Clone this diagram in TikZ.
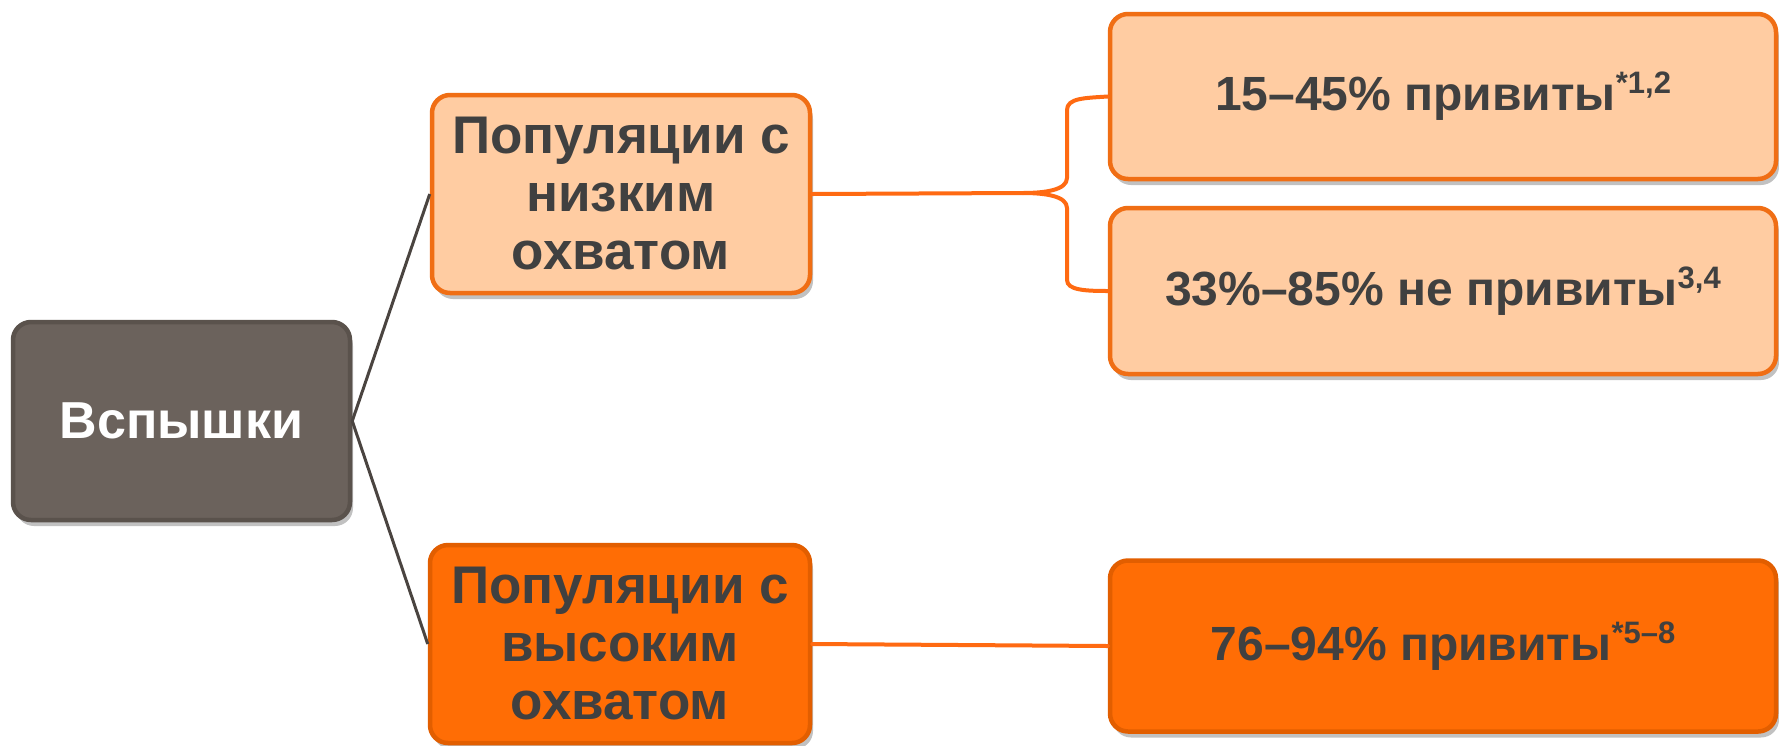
\documentclass[tikz,border=0pt]{standalone}
\usepackage{fontspec}
\setmainfont{Liberation Sans}
\usetikzlibrary{shadows}
\definecolor{flashfill}{HTML}{6B625C}
\definecolor{flashedge}{HTML}{5A524C}
\definecolor{peach}{HTML}{FFCCA2}
\definecolor{peachedge}{HTML}{F06E14}
\definecolor{orangefill}{HTML}{FF6D05}
\definecolor{orangeedge}{HTML}{E25E00}
\definecolor{linkorange}{HTML}{FF6A12}
\definecolor{linkgray}{HTML}{4A4440}
\definecolor{txtgray}{HTML}{404040}
\newcommand{\supx}[1]{\raisebox{0.36em}{\fontsize{31}{31}\selectfont #1}}
\begin{document}
\begin{tikzpicture}[x=1pt,y=-1pt,
  box/.style={rounded corners=18pt, line width=4.5pt, inner sep=0pt,
    drop shadow={shadow xshift=3pt, shadow yshift=-6pt, opacity=0.4, fill=black!60}},
  midtext/.style={text=txtgray, align=center, font=\fontsize{53}{58}\selectfont\bfseries},
  rtext/.style={text=txtgray, font=\fontsize{48}{52}\selectfont\bfseries},
  flashbox/.style={box, fill=flashfill, draw=flashedge, minimum width=337pt, minimum height=198pt,
    text=white, font=\fontsize{52}{56}\selectfont\bfseries},
  lowbox/.style={box, fill=peach, draw=peachedge, minimum width=378pt, minimum height=198pt, midtext},
  highbox/.style={box, fill=orangefill, draw=orangeedge, minimum width=380pt, minimum height=198pt, midtext},
  rlowbox/.style={box, fill=peach, draw=peachedge, minimum width=666pt, rtext},
  rhighbox/.style={box, fill=orangefill, draw=orangeedge, minimum width=666pt, rtext},
  grayline/.style={draw=linkgray, line width=3pt},
  orangeline/.style={draw=linkorange, line width=4pt, line cap=round, line join=round},
]
\path[use as bounding box, fill=white] (0,0) rectangle (1779,745);

\node[flashbox] (flash) at (181.5,421) {Вспышки};
\node[lowbox] (low) at (621,194) {Популяции с\\низким\\охватом};
\node[highbox] (high) at (620,644) {Популяции с\\высоким\\охватом};
\node[rlowbox, minimum height=165pt] (r1) at (1443,96.5) {15–45\% привиты\supx{*1,2}};
\node[rlowbox, minimum height=166pt] (r2) at (1443,291) {33\%–85\% не привиты\supx{3,4}};
\node[rhighbox, minimum height=171pt] (r3) at (1443,646) {76–94\% привиты\supx{*5–8}};

\coordinate (tip) at (1023,193);
\coordinate (bt) at (1067,110);
\coordinate (bm1) at (1067,178);
\coordinate (bm2) at (1067,208);
\coordinate (bb) at (1067,280);

\draw[grayline] (flash.east) -- (low.west);
\draw[grayline] (flash.east) -- (high.west);
\draw[orangeline] (low.east) -- (tip);
\draw[orangeline] (r1.west) .. controls (1085,98) and (1067,98) .. (bt) -- (bm1)
  .. controls (1067,190) and (1045,193) .. (tip)
  .. controls (1045,193) and (1067,196) .. (bm2) -- (bb)
  .. controls (1067,290) and (1085,291) .. (r2.west);
\draw[orangeline] (high.east) -- (r3.west);
\end{tikzpicture}
\end{document}
